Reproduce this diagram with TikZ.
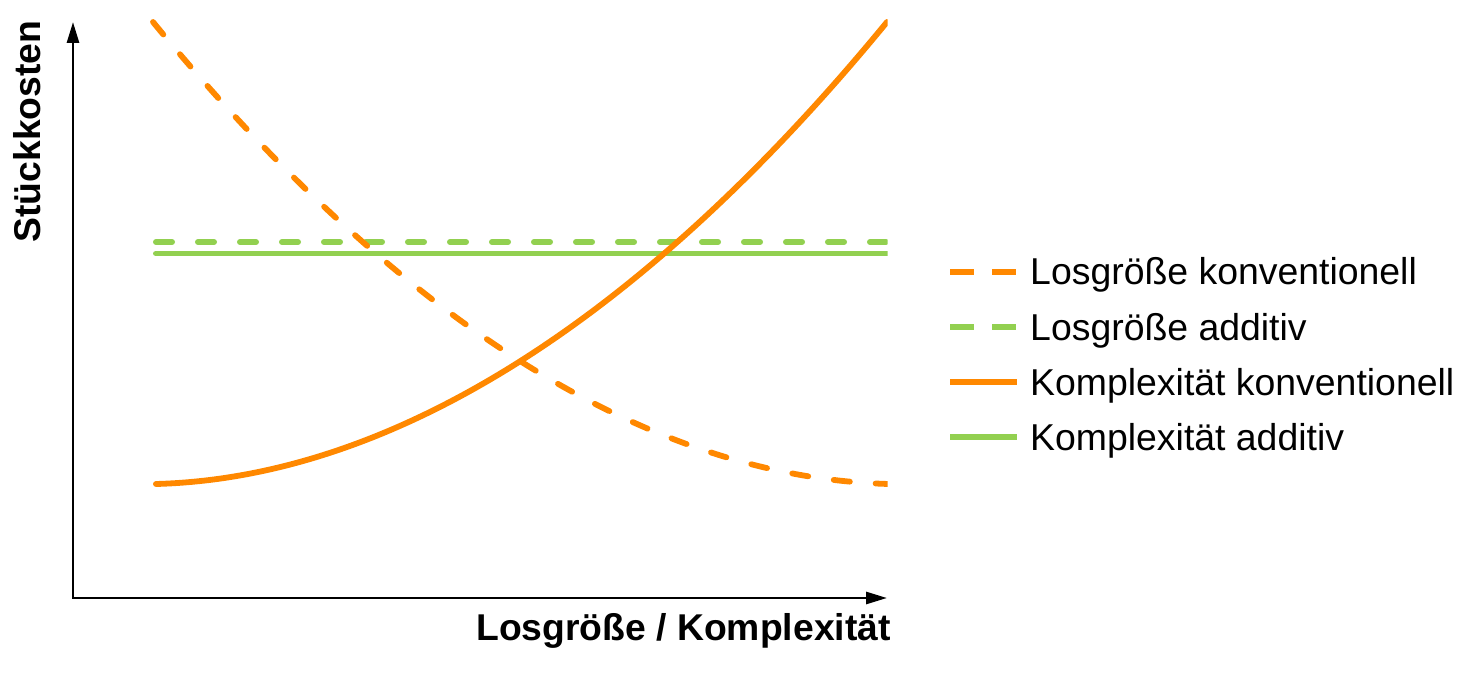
\documentclass[tikz,border=0pt]{standalone}
\usepackage{fontspec}
\setmainfont{Liberation Sans}
\usetikzlibrary{arrows.meta}
\definecolor{korange}{RGB}{255,136,0}
\definecolor{kgreen}{RGB}{146,208,80}
\begin{document}
\begin{tikzpicture}[x=1pt,y=-1pt,
  axis/.style={line width=2.8pt, line join=miter, {Triangle[length=21pt,width=12pt]}-{Triangle[length=21pt,width=12pt]}},
  curve/.style={line width=5.8pt, line cap=round},
  dashcurve/.style={curve, dash pattern=on 16.2pt off 25.8pt},
  legline/.style={line width=5.6pt},
  legdash/.style={legline, dash pattern=on 24pt off 18pt},
  legtext/.style={font=\fontsize{37.4}{40}\selectfont, anchor=base west, inner sep=0pt},
  axlabel/.style={font=\fontsize{37.3}{40}\selectfont\bfseries, inner sep=0pt}]
\useasboundingbox (0,0) rectangle (1480,676);
% axes
\coordinate (O) at (73,598);
\coordinate (ytop) at (73,22);
\coordinate (xend) at (887,598);
\draw[axis] (ytop) -- (O) -- (xend);
\node[axlabel, rotate=90, anchor=base] (ylab) at (40,131.5) {Stückkosten};
\node[axlabel, anchor=base] (xlab) at (683.5,640) {Losgröße / Komplexität};
% data
\coordinate (gdA) at (155.9,242);
\coordinate (gdB) at (900,242);
\coordinate (gsA) at (155.9,253.5);
\coordinate (gsB) at (900,253.5);
\coordinate (osA) at (155.9,484);
\coordinate (osB) at (887,22);
\coordinate (odA) at (153,22);
\coordinate (odB) at (889,484);
\begin{scope}
\clip (0,0) rectangle (887.5,676);
\draw[dashcurve, kgreen] (gdA) -- (gdB);
\draw[curve, kgreen] (gsA) -- (gsB);
\draw[curve, korange] (osA) .. controls (380,478) and (630,335) .. (osB);
\draw[dashcurve, korange] (odA) .. controls (410,335) and (660,478) .. (odB);
\end{scope}
% legend
\coordinate (l1a) at (950,272); \coordinate (l1b) at (1016,272);
\coordinate (l2a) at (950,327); \coordinate (l2b) at (1016,327);
\coordinate (l3a) at (950,382); \coordinate (l3b) at (1017,382);
\coordinate (l4a) at (950,437); \coordinate (l4b) at (1017,437);
\draw[legdash, korange] (l1a) -- (l1b);
\draw[legdash, kgreen] (l2a) -- (l2b);
\draw[legline, korange] (l3a) -- (l3b);
\draw[legline, kgreen] (l4a) -- (l4b);
\node[legtext] (t1) at (1030,285) {Losgröße konventionell};
\node[legtext] (t2) at (1030,340) {Losgröße additiv};
\node[legtext] (t3) at (1030,395.5) {Komplexität konventionell};
\node[legtext] (t4) at (1030,450) {Komplexität additiv};
\end{tikzpicture}
\end{document}
